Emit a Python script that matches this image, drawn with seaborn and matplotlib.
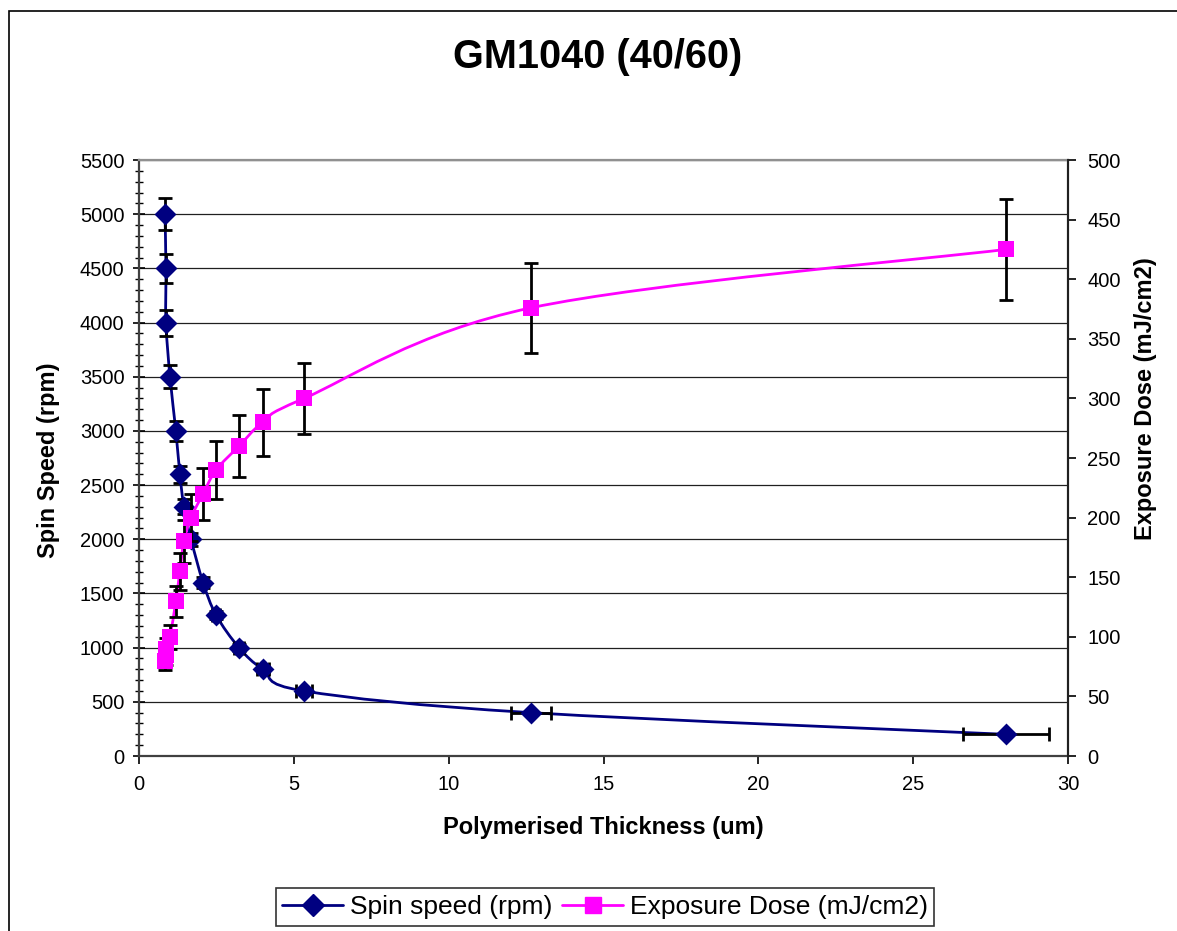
import matplotlib
matplotlib.use("Agg")
import matplotlib.pyplot as plt
import seaborn as sns
import numpy as np
import pandas as pd
from matplotlib.path import Path
from matplotlib.patches import PathPatch, Rectangle
from matplotlib.lines import Line2D
from matplotlib.ticker import MultipleLocator

# data
thickness = [0.84, 0.87, 0.87, 1.0, 1.19, 1.32, 1.45, 1.68, 2.07, 2.49, 3.23, 4.0, 5.33, 12.66, 28.0]
spin_speed = [5000, 4500, 4000, 3500, 3000, 2600, 2300, 2000, 1600, 1300, 1000, 800, 600, 400, 200]
exposure_dose = [80, 85, 90, 100, 130, 155, 180, 200, 220, 240, 260, 280, 300, 376, 425]

# percentage error bars as used in the original
spin_xerr_pct = 0.05
spin_yerr_pct = 0.03
dose_yerr_pct = 0.10

title = "GM1040 (40/60)"
xlabel = "Polymerised Thickness (um)"
ylabel_left = "Spin Speed (rpm)"
ylabel_right = "Exposure Dose (mJ/cm2)"
label_spin = "Spin speed (rpm)"
label_dose = "Exposure Dose (mJ/cm2)"

NAVY = "#000080"
MAGENTA = "#FF00FF"

df = pd.DataFrame({"thickness": thickness, "spin": spin_speed, "dose": exposure_dose})


def smooth_path(x, y, t=1 / 6):
    """Bezier path through the points, like Excel's smoothed line."""
    pts = np.column_stack([x, y]).astype(float)
    n = len(pts)
    verts = [pts[0]]
    codes = [Path.MOVETO]
    for i in range(n - 1):
        p0 = pts[i - 1] if i > 0 else pts[i]
        p1 = pts[i]
        p2 = pts[i + 1]
        p3 = pts[i + 2] if i + 2 < n else pts[i + 1]
        verts += [p1 + (p2 - p0) * t, p2 - (p3 - p1) * t, p2]
        codes += [Path.CURVE4] * 3
    return Path(verts, codes)


sns.set_theme(style="white")
plt.rcParams["font.family"] = ["Liberation Sans", "DejaVu Sans"]
plt.rcParams.update({"text.color": "black", "axes.labelcolor": "black",
                     "xtick.color": "black", "ytick.color": "black"})

fig = plt.figure(figsize=(11.77, 9.31), dpi=100)
fig.patches.append(Rectangle((9 / 1177, -0.05), 1.2, 1 - 11 / 931 + 0.05,
                             transform=fig.transFigure, fill=False,
                             edgecolor="black", linewidth=1.2))

ax = fig.add_axes([139 / 1177, 1 - 756 / 931, 929 / 1177, 596 / 931])
ax2 = ax.twinx()

# spin speed (primary axis)
ax.add_patch(PathPatch(smooth_path(df["thickness"], df["spin"]), fill=False,
                       edgecolor=NAVY, linewidth=2, zorder=2))
ax.errorbar(df["thickness"], df["spin"],
            xerr=df["thickness"] * spin_xerr_pct, yerr=df["spin"] * spin_yerr_pct,
            fmt="none", ecolor="black", elinewidth=2, capsize=5, capthick=2, zorder=3)
sns.scatterplot(data=df, x="thickness", y="spin", ax=ax, marker="D", s=125,
                color=NAVY, edgecolor=NAVY, linewidth=0, zorder=4, legend=False)

# exposure dose (secondary axis)
ax2.add_patch(PathPatch(smooth_path(df["thickness"], df["dose"]), fill=False,
                        edgecolor=MAGENTA, linewidth=2, zorder=2))
ax2.errorbar(df["thickness"], df["dose"], yerr=df["dose"] * dose_yerr_pct,
             fmt="none", ecolor="black", elinewidth=2, capsize=5, capthick=2, zorder=3)
sns.scatterplot(data=df, x="thickness", y="dose", ax=ax2, marker="s", s=125,
                color=MAGENTA, edgecolor=MAGENTA, linewidth=0, zorder=4, legend=False)

ax.set_xlim(0, 30)
ax.set_ylim(0, 5500)
ax2.set_ylim(0, 500)
ax.xaxis.set_major_locator(MultipleLocator(5))
ax.yaxis.set_major_locator(MultipleLocator(500))
ax.yaxis.set_minor_locator(MultipleLocator(100))
ax2.yaxis.set_major_locator(MultipleLocator(50))

ax.grid(axis="y", which="major", color="#202020", linewidth=0.9)
ax.set_axisbelow(True)

ax.tick_params(axis="x", direction="out", length=6, width=1.2, labelsize=14.5,
               pad=8, bottom=True, colors="black")
ax.tick_params(axis="y", which="major", direction="inout", length=9, width=1.2,
               labelsize=14.5, pad=6, left=True)
ax.tick_params(axis="y", which="minor", direction="inout", length=6, width=1.0, left=True)
ax2.tick_params(axis="y", direction="out", length=6, width=1.2, labelsize=14.5,
                pad=8, right=True)

for name, sp in ax.spines.items():
    sp.set_color("#404040")
    sp.set_linewidth(1.6)
ax.spines["top"].set_color("#909090")
for name, sp in ax2.spines.items():
    sp.set_visible(False)
ax2.spines["right"].set_visible(True)
ax2.spines["right"].set_color("#202020")
ax2.spines["right"].set_linewidth(1.4)

ax.set_xlabel(xlabel, fontsize=17, fontweight="bold")
ax.xaxis.set_label_coords(0.5, -0.100)
ax.set_ylabel(ylabel_left, fontsize=17, fontweight="bold")
ax.yaxis.set_label_coords(-0.085, 0.497)
ax2.set_ylabel(ylabel_right, fontsize=17, fontweight="bold")
ax2.yaxis.set_label_coords(1.071, 0.60)

fig.text(598 / 1177, 1 - 57 / 931, title, ha="center", va="center",
         fontsize=28.5, fontweight="bold")

handles = [
    Line2D([], [], color=NAVY, linewidth=2, marker="D", markersize=11,
           markerfacecolor=NAVY, markeredgecolor=NAVY),
    Line2D([], [], color=MAGENTA, linewidth=2, marker="s", markersize=11,
           markerfacecolor=MAGENTA, markeredgecolor=MAGENTA),
]
leg = fig.legend(handles, [label_spin, label_dose], loc="center",
                 bbox_to_anchor=(605 / 1177, 1 - 907 / 931), ncol=2,
                 fontsize=19, frameon=True, fancybox=False, handlelength=2.3,
                 handletextpad=0.25, columnspacing=0.4, borderpad=0.25,
                 borderaxespad=0)
leg.get_frame().set_edgecolor("black")
leg.get_frame().set_linewidth(1.2)

fig.savefig("out.png", dpi=100)
